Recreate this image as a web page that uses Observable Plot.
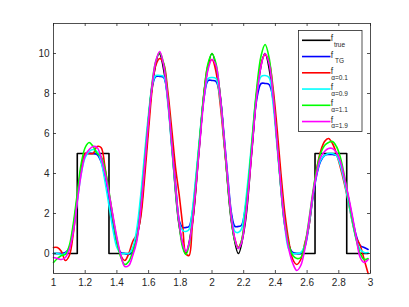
<!DOCTYPE html>
<html><head><meta charset="utf-8">
<script src="https://cdn.jsdelivr.net/npm/d3@7"></script>
<script src="https://cdn.jsdelivr.net/npm/@observablehq/plot@0.6"></script>
<style>body{margin:0;background:#fff}#chart{position:relative;width:409px;height:307px}</style>
</head><body><div id="chart"></div>
<script>
const xTicks = [1, 1.2, 1.4, 1.6, 1.8, 2, 2.2, 2.4, 2.6, 2.8, 3];
const yTicks = [0, 2, 4, 6, 8, 10];

// true function: pulse parts and smooth part
const trueStepX = [1.0, 1.15, 1.15, 1.35, 1.35, 1.5, 2.5, 2.65, 2.65, 2.85, 2.85, 2.985];
const trueStepY = [0, 0, 5, 5, 0, 0, 0, 0, 5, 5, 0, 0];
const trueStepSeg = [0, 0, 0, 0, 0, 0, 1, 1, 1, 1, 1, 1];
const trueSmoothX = [1.5, 1.5417, 1.5833, 1.625, 1.6667, 1.7083, 1.75, 1.7917, 1.8333, 1.875, 1.9167, 1.9583, 2.0, 2.0417, 2.0833, 2.125, 2.1667, 2.2083, 2.25, 2.2917, 2.3333, 2.375, 2.4167, 2.4583, 2.5];
const trueSmoothY = [0, 1.46, 5, 8.54, 10, 8.54, 5, 1.46, 0, 1.46, 5, 8.54, 10, 8.54, 5, 1.46, 0, 1.46, 5, 8.54, 10, 8.54, 5, 1.46, 0];

const xGrid = [1.00, 1.025, 1.05, 1.075, 1.10, 1.125, 1.15, 1.175, 1.20, 1.225, 1.25, 1.275, 1.30, 1.325, 1.35, 1.375, 1.40, 1.425, 1.45, 1.475,
  1.50, 1.525, 1.55, 1.575, 1.60, 1.625, 1.645, 1.67, 1.695, 1.72, 1.745, 1.77, 1.795, 1.815, 1.835, 1.855, 1.875, 1.90, 1.925, 1.95,
  1.975, 2.00, 2.025, 2.05, 2.075, 2.10, 2.125, 2.145, 2.165, 2.185, 2.205, 2.23, 2.255, 2.28, 2.31, 2.335, 2.36, 2.385, 2.41, 2.435,
  2.46, 2.485, 2.51, 2.535, 2.56, 2.585, 2.61, 2.635, 2.66, 2.685, 2.71, 2.735, 2.76, 2.785, 2.81, 2.835, 2.86, 2.885, 2.91, 2.935, 2.96, 2.985];

const yTG = [0.0, 0.0, 0.0, 0.05, 0.3, 1.3, 2.8, 4.2, 4.95, 5.0, 5.0, 4.95, 4.6, 3.8, 2.7, 1.5, 0.5, 0.05, 0.0, -0.05,
  0.1, 0.9, 2.5, 4.7, 6.8, 8.4, 8.85, 8.85, 8.8, 7.8, 5.7, 3.5, 1.6, 1.3, 1.3, 1.35, 2.0, 3.8, 5.9, 7.8,
  8.65, 8.65, 8.6, 7.9, 6.0, 3.8, 1.9, 1.35, 1.35, 1.4, 2.0, 3.6, 5.6, 7.6, 8.5, 8.5, 8.45, 7.7, 5.8, 3.6,
  1.6, 0.4, 0.05, 0.0, 0.0, 0.3, 1.3, 2.7, 3.9, 4.6, 4.9, 4.95, 4.95, 4.9, 4.5, 3.7, 2.8, 1.8, 0.9, 0.4, 0.3, 0.2];

const yA01 = [0.3, 0.3, 0.1, -0.35, -0.1, 1.0, 2.7, 4.3, 5.0, 5.0, 5.0, 5.35, 5.3, 4.3, 3.0, 1.8, 0.7, -0.1, -0.35, 0.0,
  0.6, 0.95, 1.8, 3.8, 6.2, 8.4, 9.4, 9.75, 9.5, 8.2, 6.3, 4.3, 2.8, 1.4, 0.0, -0.1, 1.3, 3.5, 5.9, 8.0,
  9.4, 9.7, 9.1, 7.6, 5.6, 3.5, 1.6, 0.7, 0.3, 0.6, 1.5, 3.3, 5.6, 7.9, 9.5, 9.95, 9.6, 8.3, 6.3, 4.0,
  2.0, 0.6, -0.3, -0.55, -0.3, 0.5, 1.3, 2.8, 4.2, 5.1, 5.6, 5.75, 5.5, 5.0, 4.3, 3.5, 2.6, 1.6, 0.8, 0.4, -0.3, -1.0];

const yA09 = [0.0, 0.0, -0.05, 0.0, 0.3, 1.2, 2.6, 4.0, 4.8, 5.1, 5.2, 5.1, 4.6, 3.6, 2.4, 1.2, 0.3, 0.0, 0.0, 0.0,
  0.3, 1.2, 2.9, 5.0, 7.0, 8.5, 8.9, 8.9, 8.85, 7.6, 5.4, 3.2, 1.5, 1.15, 1.1, 1.2, 2.1, 4.0, 6.1, 7.9,
  8.75, 8.8, 8.75, 7.8, 5.8, 3.6, 1.7, 1.1, 1.05, 1.2, 2.1, 3.9, 5.9, 7.9, 8.85, 8.9, 8.8, 7.5, 5.4, 3.2,
  1.3, 0.2, 0.0, 0.0, 0.05, 0.4, 1.4, 2.8, 4.0, 4.65, 4.9, 5.0, 5.0, 4.9, 4.4, 3.6, 2.6, 1.6, 0.7, 0.2, 0.05, 0.05];

const yA11 = [-0.45, -0.25, -0.1, -0.05, 0.4, 1.5, 3.0, 4.5, 5.3, 5.55, 5.35, 5.0, 4.85, 4.2, 3.1, 1.8, 0.6, -0.2, -0.55, -0.4,
  0.1, 0.7, 2.3, 4.5, 6.8, 8.7, 9.6, 10.05, 9.5, 7.9, 5.6, 3.2, 1.3, 0.3, -0.05, 0.4, 1.6, 3.7, 6.0, 8.1,
  9.5, 10.0, 9.5, 8.0, 5.8, 3.4, 1.5, 0.6, 0.25, 0.6, 1.6, 3.5, 5.9, 8.1, 9.9, 10.45, 9.8, 8.0, 5.6, 3.3,
  1.5, 0.4, -0.1, -0.25, -0.2, 0.4, 1.6, 3.0, 4.2, 5.0, 5.4, 5.55, 5.6, 5.35, 4.8, 3.9, 2.8, 1.7, 0.7, 0.0, -0.3, -0.25];

const yA19 = [-0.2, -0.25, -0.3, -0.2, 0.2, 1.1, 2.6, 4.0, 4.9, 5.2, 5.35, 5.3, 4.8, 4.0, 3.0, 1.9, 0.8, -0.1, -0.65, -0.6,
  -0.1, 0.6, 2.2, 4.4, 6.7, 8.6, 9.6, 10.1, 9.4, 7.8, 5.6, 3.3, 1.4, 0.5, 0.1, 0.5, 1.5, 3.5, 5.7, 7.8,
  9.2, 9.7, 9.4, 8.0, 5.9, 3.6, 1.6, 0.7, 0.25, 0.5, 1.4, 3.2, 5.5, 7.7, 9.4, 10.0, 9.5, 7.9, 5.6, 3.3,
  1.4, 0.2, -0.5, -0.85, -0.6, 0.2, 1.5, 2.9, 4.0, 4.8, 5.1, 5.25, 5.25, 5.05, 4.6, 3.8, 2.9, 1.9, 0.8, -0.2, -0.45, -0.3];

const seriesNames = ["true", "TG", "α=0.1", "α=0.9", "α=1.1", "α=1.9"];
const seriesColors = ["#000000", "#0000ff", "#ff0000", "#00ffff", "#00ff00", "#ff00ff"];
const recon = [yTG, yA01, yA09, yA11, yA19];

const stepRows = trueStepX.map((x, i) => ({x, y: trueStepY[i], seg: trueStepSeg[i]}));
const smoothRows = trueSmoothX.map((x, i) => ({x, y: trueSmoothY[i]}));

const W = 409, H = 307, mL = 53, mR = 39, mT = 23, mB = 34;
const innerW = W - mL - mR, innerH = H - mT - mB;
const axisColor = "#262626";

const marks = [
  Plot.line(stepRows, {x: "x", y: "y", z: "seg", stroke: seriesColors[0], strokeWidth: 1.6}),
  Plot.line(smoothRows, {x: "x", y: "y", stroke: seriesColors[0], strokeWidth: 1.6, curve: "catmull-rom"})
];
recon.forEach((ys, k) => {
  const rows = xGrid.map((x, i) => ({x, y: ys[i]}));
  marks.push(Plot.line(rows, {x: "x", y: "y", stroke: seriesColors[k + 1], strokeWidth: 1.6, curve: "catmull-rom"}));
});
marks.push(
  Plot.frame({stroke: axisColor, strokeWidth: 0.8}),
  Plot.tickX(xTicks, {x: d => d, stroke: axisColor, strokeWidth: 0.8, insetTop: innerH - 3}),
  Plot.tickX(xTicks, {x: d => d, stroke: axisColor, strokeWidth: 0.8, insetBottom: innerH - 3}),
  Plot.tickY(yTicks, {y: d => d, stroke: axisColor, strokeWidth: 0.8, insetRight: innerW - 3}),
  Plot.tickY(yTicks, {y: d => d, stroke: axisColor, strokeWidth: 0.8, insetLeft: innerW - 3}),
  Plot.axisX(xTicks, {tickSize: 0, tickPadding: 5, tickFormat: d => String(d), label: null, fill: axisColor}),
  Plot.axisY(yTicks, {tickSize: 0, tickPadding: 4, tickFormat: d => String(d), label: null, fill: axisColor})
);

const plot = Plot.plot({
  width: W, height: H,
  marginLeft: mL, marginRight: mR, marginTop: mT, marginBottom: mB,
  style: {fontFamily: "'Liberation Sans', Arial, sans-serif", fontSize: "10px", background: "#fff"},
  x: {domain: [1, 3]},
  y: {domain: [-1, 11.5]},
  marks
});
document.getElementById("chart").appendChild(plot);

// legend box
const svg = d3.select(plot);
const lg = svg.append("g").attr("font-family", "'Liberation Sans', Arial, sans-serif").attr("fill", axisColor);
lg.append("rect").attr("x", 298.5).attr("y", 30.5).attr("width", 63.5).attr("height", 101)
  .attr("fill", "#fff").attr("stroke", axisColor).attr("stroke-width", 0.8);
seriesNames.forEach((name, i) => {
  const yy = 40.3 + i * 16.25;
  lg.append("line").attr("x1", 302).attr("x2", 330.5).attr("y1", yy).attr("y2", yy)
    .attr("stroke", seriesColors[i]).attr("stroke-width", 1.6);
  lg.append("text").attr("x", 332).attr("y", yy + 1).attr("font-size", 8.5).text("f");
  lg.append("text").attr("x", 339.5).attr("y", yy + 6.8).attr("font-size", 6.5).text(name);
});
</script>
</body></html>
